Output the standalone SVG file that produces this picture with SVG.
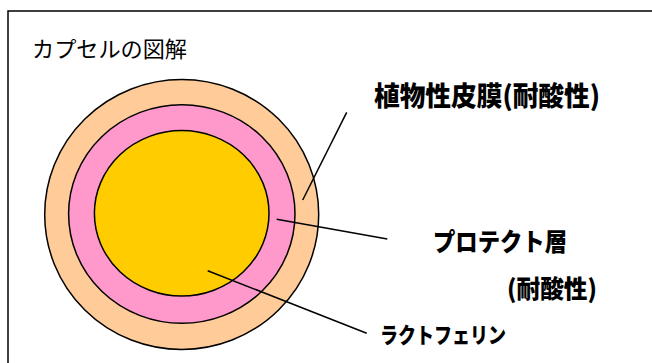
<svg xmlns="http://www.w3.org/2000/svg" width="652" height="363" viewBox="0 0 652 363">
<style>
.ring{stroke:#000;stroke-width:1.5}
.conn{stroke:#000;stroke-width:1.5;fill:none}
.lbl{font-family:"Noto Sans CJK JP","Noto Sans CJK SC",sans-serif;font-weight:900;fill:#000}
.title{font-family:"Noto Sans CJK JP","Noto Sans CJK SC",sans-serif;font-weight:400;fill:#000}
</style>
<rect x="0" y="0" width="652" height="363" fill="#fff"/>
<rect id="frame" x="8" y="11" width="700" height="400" fill="none" stroke="#000" stroke-width="1.5"/>
<text id="title" class="title" x="32" y="57" font-size="22" textLength="155" lengthAdjust="spacingAndGlyphs">カプセルの図解</text>
<g id="capsule">
<ellipse id="outer" class="ring" cx="181.7" cy="214.5" rx="137" ry="135" fill="#FFCC99"/>
<ellipse id="protect" class="ring" cx="181.8" cy="214" rx="113.2" ry="109.3" fill="#FF99CC"/>
<ellipse id="core" class="ring" cx="181.7" cy="213.3" rx="87.3" ry="82.7" fill="#FFCC00"/>
</g>
<g id="connectors">
<line class="conn" x1="302.7" y1="200" x2="346.7" y2="112.3"/>
<line class="conn" x1="276.7" y1="219.3" x2="387.3" y2="239"/>
<line class="conn" x1="207.7" y1="270.7" x2="366.7" y2="333.3"/>
</g>
<g id="label-skin">
<text class="lbl" x="374" y="106" font-size="27" textLength="226" lengthAdjust="spacingAndGlyphs">植物性皮膜(耐酸性)</text>
</g>
<g id="label-protect">
<text class="lbl" x="433" y="251" font-size="25" textLength="134" lengthAdjust="spacingAndGlyphs">プロテクト層</text>
<text class="lbl" x="507" y="298" font-size="25" textLength="90" lengthAdjust="spacingAndGlyphs">(耐酸性)</text>
</g>
<g id="label-lacto">
<text class="lbl" x="380" y="343" font-size="22" textLength="126" lengthAdjust="spacingAndGlyphs">ラクトフェリン</text>
</g>
</svg>
